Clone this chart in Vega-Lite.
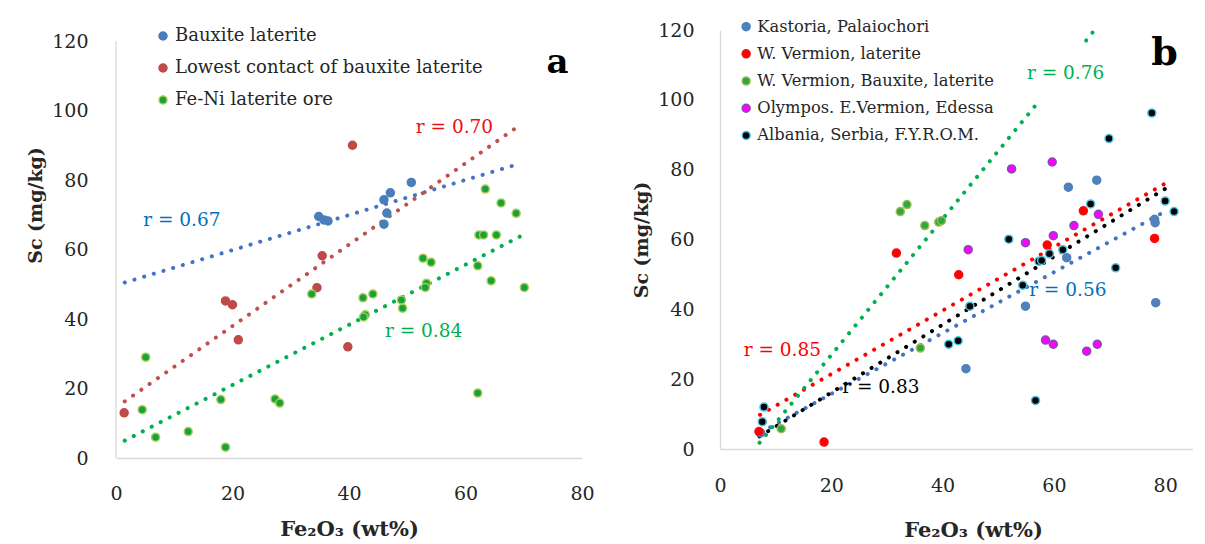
{
  "$schema": "https://vega.github.io/schema/vega-lite/v6.json",
  "background": "white",
  "padding": {"left": 26, "top": 18, "right": 0, "bottom": 0},
  "spacing": 37,
  "datasets": {
    "a_axisline": [{"x": 0, "y": 0, "y2": 120}],
    "a_points": [
      {"series": "Bauxite laterite", "x": 34.8, "y": 69.5},
      {"series": "Bauxite laterite", "x": 35.7, "y": 68.5},
      {"series": "Bauxite laterite", "x": 36.4, "y": 68.2},
      {"series": "Bauxite laterite", "x": 46.0, "y": 74.3},
      {"series": "Bauxite laterite", "x": 46.5, "y": 70.5},
      {"series": "Bauxite laterite", "x": 47.1, "y": 76.3},
      {"series": "Bauxite laterite", "x": 46.0, "y": 67.3},
      {"series": "Bauxite laterite", "x": 50.7, "y": 79.3},
      {"series": "Lowest contact of bauxite laterite", "x": 1.4, "y": 13.0},
      {"series": "Lowest contact of bauxite laterite", "x": 18.8, "y": 45.2},
      {"series": "Lowest contact of bauxite laterite", "x": 20.0, "y": 44.1},
      {"series": "Lowest contact of bauxite laterite", "x": 21.0, "y": 34.0},
      {"series": "Lowest contact of bauxite laterite", "x": 34.5, "y": 49.0},
      {"series": "Lowest contact of bauxite laterite", "x": 35.4, "y": 58.2},
      {"series": "Lowest contact of bauxite laterite", "x": 39.8, "y": 32.0},
      {"series": "Lowest contact of bauxite laterite", "x": 40.6, "y": 90.0},
      {"series": "Fe-Ni laterite ore", "x": 5.1, "y": 29.0},
      {"series": "Fe-Ni laterite ore", "x": 4.5, "y": 13.9},
      {"series": "Fe-Ni laterite ore", "x": 6.8, "y": 6.0},
      {"series": "Fe-Ni laterite ore", "x": 12.4, "y": 7.6},
      {"series": "Fe-Ni laterite ore", "x": 18.8, "y": 3.1},
      {"series": "Fe-Ni laterite ore", "x": 18.0, "y": 16.8},
      {"series": "Fe-Ni laterite ore", "x": 27.3, "y": 17.0},
      {"series": "Fe-Ni laterite ore", "x": 28.1, "y": 15.8},
      {"series": "Fe-Ni laterite ore", "x": 33.6, "y": 47.2},
      {"series": "Fe-Ni laterite ore", "x": 42.4, "y": 46.1},
      {"series": "Fe-Ni laterite ore", "x": 44.1, "y": 47.2},
      {"series": "Fe-Ni laterite ore", "x": 42.8, "y": 41.2},
      {"series": "Fe-Ni laterite ore", "x": 42.5, "y": 40.6},
      {"series": "Fe-Ni laterite ore", "x": 49.0, "y": 45.5},
      {"series": "Fe-Ni laterite ore", "x": 49.2, "y": 43.1},
      {"series": "Fe-Ni laterite ore", "x": 52.7, "y": 57.5},
      {"series": "Fe-Ni laterite ore", "x": 54.1, "y": 56.3},
      {"series": "Fe-Ni laterite ore", "x": 53.3, "y": 50.3},
      {"series": "Fe-Ni laterite ore", "x": 53.1, "y": 49.1},
      {"series": "Fe-Ni laterite ore", "x": 62.1, "y": 55.3},
      {"series": "Fe-Ni laterite ore", "x": 62.3, "y": 64.2},
      {"series": "Fe-Ni laterite ore", "x": 63.1, "y": 64.2},
      {"series": "Fe-Ni laterite ore", "x": 65.3, "y": 64.2},
      {"series": "Fe-Ni laterite ore", "x": 63.4, "y": 77.4},
      {"series": "Fe-Ni laterite ore", "x": 66.1, "y": 73.4},
      {"series": "Fe-Ni laterite ore", "x": 68.7, "y": 70.4},
      {"series": "Fe-Ni laterite ore", "x": 64.4, "y": 51.0},
      {"series": "Fe-Ni laterite ore", "x": 70.1, "y": 49.1},
      {"series": "Fe-Ni laterite ore", "x": 62.1, "y": 18.7}
    ],
    "a_lines": [
      {"series": "Bauxite laterite", "x": 1.5, "y": 50.5},
      {"series": "Bauxite laterite", "x": 69.5, "y": 84.8},
      {"series": "Lowest contact of bauxite laterite", "x": 1.5, "y": 16.3},
      {"series": "Lowest contact of bauxite laterite", "x": 69.7, "y": 96.2},
      {"series": "Fe-Ni laterite ore", "x": 1.5, "y": 5.0},
      {"series": "Fe-Ni laterite ore", "x": 69.3, "y": 63.7}
    ],
    "a_labels": [
      {"series": "Bauxite laterite", "x": 11.3, "y": 68.5, "label": "r = 0.67"},
      {"series": "Lowest contact of bauxite laterite", "x": 58.1, "y": 95.3, "label": "r = 0.70"},
      {"series": "Fe-Ni laterite ore", "x": 52.8, "y": 36.5, "label": "r = 0.84"}
    ],
    "a_letter": [{"x": 75.8, "y": 113.6, "label": "a"}],
    "b_points": [
      {"series": "Kastoria, Palaiochori", "x": 62.6, "y": 75.0},
      {"series": "Kastoria, Palaiochori", "x": 67.7, "y": 77.0},
      {"series": "Kastoria, Palaiochori", "x": 78.1, "y": 65.8},
      {"series": "Kastoria, Palaiochori", "x": 78.2, "y": 64.8},
      {"series": "Kastoria, Palaiochori", "x": 78.3, "y": 41.9},
      {"series": "Kastoria, Palaiochori", "x": 54.9, "y": 40.9},
      {"series": "Kastoria, Palaiochori", "x": 44.2, "y": 23.0},
      {"series": "Kastoria, Palaiochori", "x": 62.3, "y": 54.8},
      {"series": "Kastoria, Palaiochori", "x": 7.3, "y": 4.6},
      {"series": "W. Vermion, laterite", "x": 18.7, "y": 2.0},
      {"series": "W. Vermion, laterite", "x": 31.7, "y": 56.1},
      {"series": "W. Vermion, laterite", "x": 42.9, "y": 49.9},
      {"series": "W. Vermion, laterite", "x": 58.8, "y": 58.4},
      {"series": "W. Vermion, laterite", "x": 65.3, "y": 68.2},
      {"series": "W. Vermion, laterite", "x": 78.1, "y": 60.3},
      {"series": "W. Vermion, laterite", "x": 7.0, "y": 5.0},
      {"series": "W. Vermion, Bauxite, laterite", "x": 32.4, "y": 68.0},
      {"series": "W. Vermion, Bauxite, laterite", "x": 33.6, "y": 70.0},
      {"series": "W. Vermion, Bauxite, laterite", "x": 36.8, "y": 64.0},
      {"series": "W. Vermion, Bauxite, laterite", "x": 39.3, "y": 65.0},
      {"series": "W. Vermion, Bauxite, laterite", "x": 39.8, "y": 65.4},
      {"series": "W. Vermion, Bauxite, laterite", "x": 36.0, "y": 28.9},
      {"series": "W. Vermion, Bauxite, laterite", "x": 11.0, "y": 5.8},
      {"series": "Olympos. E.Vermion, Edessa", "x": 52.4, "y": 80.2},
      {"series": "Olympos. E.Vermion, Edessa", "x": 59.7, "y": 82.2},
      {"series": "Olympos. E.Vermion, Edessa", "x": 44.6, "y": 57.1},
      {"series": "Olympos. E.Vermion, Edessa", "x": 54.9, "y": 59.1},
      {"series": "Olympos. E.Vermion, Edessa", "x": 59.9, "y": 61.1},
      {"series": "Olympos. E.Vermion, Edessa", "x": 63.6, "y": 64.0},
      {"series": "Olympos. E.Vermion, Edessa", "x": 68.0, "y": 67.2},
      {"series": "Olympos. E.Vermion, Edessa", "x": 58.5, "y": 31.2},
      {"series": "Olympos. E.Vermion, Edessa", "x": 59.9, "y": 30.0},
      {"series": "Olympos. E.Vermion, Edessa", "x": 65.9, "y": 28.0},
      {"series": "Olympos. E.Vermion, Edessa", "x": 67.8, "y": 30.0},
      {"series": "Albania, Serbia, F.Y.R.O.M.", "x": 77.6, "y": 96.2},
      {"series": "Albania, Serbia, F.Y.R.O.M.", "x": 69.9, "y": 88.9},
      {"series": "Albania, Serbia, F.Y.R.O.M.", "x": 66.6, "y": 70.2},
      {"series": "Albania, Serbia, F.Y.R.O.M.", "x": 80.0, "y": 71.0},
      {"series": "Albania, Serbia, F.Y.R.O.M.", "x": 81.6, "y": 68.0},
      {"series": "Albania, Serbia, F.Y.R.O.M.", "x": 51.9, "y": 60.1},
      {"series": "Albania, Serbia, F.Y.R.O.M.", "x": 61.6, "y": 57.1},
      {"series": "Albania, Serbia, F.Y.R.O.M.", "x": 57.3, "y": 53.8},
      {"series": "Albania, Serbia, F.Y.R.O.M.", "x": 57.8, "y": 54.0},
      {"series": "Albania, Serbia, F.Y.R.O.M.", "x": 59.2, "y": 55.9},
      {"series": "Albania, Serbia, F.Y.R.O.M.", "x": 54.4, "y": 46.9},
      {"series": "Albania, Serbia, F.Y.R.O.M.", "x": 44.9, "y": 40.9},
      {"series": "Albania, Serbia, F.Y.R.O.M.", "x": 71.1, "y": 51.9},
      {"series": "Albania, Serbia, F.Y.R.O.M.", "x": 41.1, "y": 30.0},
      {"series": "Albania, Serbia, F.Y.R.O.M.", "x": 42.8, "y": 31.0},
      {"series": "Albania, Serbia, F.Y.R.O.M.", "x": 56.7, "y": 13.9},
      {"series": "Albania, Serbia, F.Y.R.O.M.", "x": 7.9, "y": 12.0},
      {"series": "Albania, Serbia, F.Y.R.O.M.", "x": 7.6, "y": 7.8}
    ],
    "b_lines": [
      {"series": "Kastoria, Palaiochori", "seg": 1, "x": 7.4, "y": 4.8},
      {"series": "Kastoria, Palaiochori", "seg": 1, "x": 80.3, "y": 68.3},
      {"series": "W. Vermion, laterite", "seg": 1, "x": 7.2, "y": 9.8},
      {"series": "W. Vermion, laterite", "seg": 1, "x": 80.3, "y": 76.3},
      {"series": "W. Vermion, Bauxite, laterite", "seg": 1, "x": 7.1, "y": 1.8},
      {"series": "W. Vermion, Bauxite, laterite", "seg": 1, "x": 57.0, "y": 99.0},
      {"series": "W. Vermion, Bauxite, laterite", "seg": 2, "x": 65.8, "y": 117.0},
      {"series": "W. Vermion, Bauxite, laterite", "seg": 2, "x": 67.3, "y": 120.0},
      {"series": "Albania, Serbia, F.Y.R.O.M.", "seg": 1, "x": 7.1, "y": 3.6},
      {"series": "Albania, Serbia, F.Y.R.O.M.", "seg": 1, "x": 80.7, "y": 75.2}
    ],
    "b_labels": [
      {"series": "Kastoria, Palaiochori", "x": 62.5, "y": 45.5, "label": "r = 0.56"},
      {"series": "W. Vermion, laterite", "x": 11.2, "y": 28.3, "label": "r = 0.85"},
      {"series": "W. Vermion, Bauxite, laterite", "x": 62.1, "y": 107.7, "label": "r = 0.76"},
      {"series": "Albania, Serbia, F.Y.R.O.M.", "x": 28.9, "y": 17.7, "label": "r = 0.83"}
    ],
    "b_letter": [{"x": 79.9, "y": 113.0, "label": "b"}]
  },
  "hconcat": [
    {
      "width": 466,
      "height": 428,
      "encoding": {
        "x": {"field": "x", "type": "quantitative", "scale": {"domain": [0, 80], "nice": false, "zero": false},
              "axis": {"values": [0, 20, 40, 60, 80], "labelPadding": 26, "title": "Fe₂O₃ (wt%)", "titlePadding": 15, "titleFontSize": 21}},
        "y": {"field": "y", "type": "quantitative", "scale": {"domain": [0, 123.17], "nice": false},
              "axis": {"values": [0, 20, 40, 60, 80, 100, 120], "domain": false, "labelPadding": 28, "title": "Sc (mg/kg)", "titlePadding": 6, "titleY": 175}}
      },
      "layer": [
        {
          "data": {"name": "a_axisline"},
          "mark": {"type": "rule", "color": "#d9d9d9", "strokeWidth": 1.3},
          "encoding": {"y2": {"field": "y2"}}
        },
        {
          "data": {"name": "a_lines"},
          "mark": {"type": "line", "strokeDash": [0.1, 10], "strokeCap": "round", "strokeWidth": 4},
          "encoding": {
            "color": {"field": "series", "type": "nominal",
                      "scale": {"domain": ["Bauxite laterite", "Lowest contact of bauxite laterite", "Fe-Ni laterite ore"], "range": ["#4472c4", "#c0504d", "#00b050"]},
                      "legend": null}
          }
        },
        {
          "data": {"name": "a_points"},
          "mark": {"type": "point", "filled": true, "size": 64, "strokeWidth": 1.5, "opacity": 1},
          "encoding": {
            "color": {"field": "series", "type": "nominal",
                      "scale": {"domain": ["Bauxite laterite", "Lowest contact of bauxite laterite", "Fe-Ni laterite ore"], "range": ["#4a7ebb", "#be4b48", "#14a33c"]},
                      "legend": {"orient": "none", "legendX": 38, "legendY": -3, "title": null, "symbolType": "circle", "symbolSize": 64, "symbolStrokeWidth": 1.5, "labelFontSize": 18, "labelFont": "DejaVu Serif", "labelColor": "#262626", "labelLimit": 500, "rowPadding": 14, "labelOffset": 3, "padding": 0}},
            "stroke": {"field": "series", "type": "nominal",
                      "scale": {"domain": ["Bauxite laterite", "Lowest contact of bauxite laterite", "Fe-Ni laterite ore"], "range": ["#4a7ebb", "#be4b48", "#a8cc50"]},
                      "legend": {"orient": "none", "legendX": 38, "legendY": -3, "title": null, "symbolType": "circle", "symbolSize": 64, "symbolStrokeWidth": 1.5, "labelFontSize": 18, "labelFont": "DejaVu Serif", "labelColor": "#262626", "labelLimit": 500, "rowPadding": 14, "labelOffset": 3, "padding": 0}}
          }
        },
        {
          "data": {"name": "a_labels"},
          "mark": {"type": "text", "fontSize": 18.5, "font": "DejaVu Serif", "align": "center", "baseline": "middle"},
          "encoding": {
            "text": {"field": "label"},
            "color": {"field": "series", "type": "nominal",
                      "scale": {"domain": ["Bauxite laterite", "Lowest contact of bauxite laterite", "Fe-Ni laterite ore"], "range": ["#0070c0", "#e81010", "#00b050"]},
                      "legend": null}
          }
        },
        {
          "data": {"name": "a_letter"},
          "mark": {"type": "text", "fontSize": 34, "fontWeight": "bold", "font": "DejaVu Serif", "color": "#000000", "align": "center", "baseline": "middle"},
          "encoding": {"text": {"field": "label"}}
        }
      ],
      "resolve": {"scale": {"color": "independent", "stroke": "independent"}}
    },
    {
      "width": 473,
      "height": 419,
      "encoding": {
        "x": {"field": "x", "type": "quantitative", "scale": {"domain": [0, 85], "nice": false, "zero": false},
              "axis": {"values": [0, 20, 40, 60, 80], "labelPadding": 27, "title": "Fe₂O₃ (wt%)", "titlePadding": 24, "titleX": 253, "titleFontSize": 21}},
        "y": {"field": "y", "type": "quantitative", "scale": {"domain": [0, 120], "nice": false},
              "axis": {"values": [0, 20, 40, 60, 80, 100, 120], "labelPadding": 26, "title": "Sc (mg/kg)", "titlePadding": 6}}
      },
      "layer": [
        {
          "data": {"name": "b_lines"},
          "mark": {"type": "line", "strokeDash": [0.1, 10], "strokeCap": "round", "strokeWidth": 4},
          "encoding": {
            "detail": {"field": "seg"},
            "color": {"field": "series", "type": "nominal",
                      "scale": {"domain": ["Kastoria, Palaiochori", "W. Vermion, laterite", "W. Vermion, Bauxite, laterite", "Albania, Serbia, F.Y.R.O.M."], "range": ["#4472c4", "#ff0000", "#00b050", "#000000"]},
                      "legend": null}
          }
        },
        {
          "data": {"name": "b_points"},
          "mark": {"type": "point", "filled": true, "size": 64, "strokeWidth": 1.5, "opacity": 1},
          "encoding": {
            "color": {"field": "series", "type": "nominal",
                      "scale": {"domain": ["Kastoria, Palaiochori", "W. Vermion, laterite", "W. Vermion, Bauxite, laterite", "Olympos. E.Vermion, Edessa", "Albania, Serbia, F.Y.R.O.M."], "range": ["#4f81bd", "#ff0000", "#2fa83a", "#ff00ff", "#000000"]},
                      "legend": {"orient": "none", "legendX": 18, "legendY": -11.5, "title": null, "symbolType": "circle", "symbolSize": 64, "symbolStrokeWidth": 1.5, "labelFontSize": 16.3, "labelFont": "DejaVu Serif", "labelColor": "#262626", "labelLimit": 500, "rowPadding": 10.2, "labelOffset": 3, "padding": 0}},
            "stroke": {"field": "series", "type": "nominal",
                      "scale": {"domain": ["Kastoria, Palaiochori", "W. Vermion, laterite", "W. Vermion, Bauxite, laterite", "Olympos. E.Vermion, Edessa", "Albania, Serbia, F.Y.R.O.M."], "range": ["#4f81bd", "#f01010", "#9bbb59", "#7f4fb0", "#4bc3e0"]},
                      "legend": {"orient": "none", "legendX": 18, "legendY": -11.5, "title": null, "symbolType": "circle", "symbolSize": 64, "symbolStrokeWidth": 1.5, "labelFontSize": 16.3, "labelFont": "DejaVu Serif", "labelColor": "#262626", "labelLimit": 500, "rowPadding": 10.2, "labelOffset": 3, "padding": 0}}
          }
        },
        {
          "data": {"name": "b_labels"},
          "mark": {"type": "text", "fontSize": 18.5, "font": "DejaVu Serif", "align": "center", "baseline": "middle"},
          "encoding": {
            "text": {"field": "label"},
            "color": {"field": "series", "type": "nominal",
                      "scale": {"domain": ["Kastoria, Palaiochori", "W. Vermion, laterite", "W. Vermion, Bauxite, laterite", "Albania, Serbia, F.Y.R.O.M."], "range": ["#0070c0", "#ff0000", "#00b050", "#000000"]},
                      "legend": null}
          }
        },
        {
          "data": {"name": "b_letter"},
          "mark": {"type": "text", "fontSize": 38, "fontWeight": "bold", "font": "DejaVu Serif", "color": "#000000", "align": "center", "baseline": "middle"},
          "encoding": {"text": {"field": "label"}}
        }
      ],
      "resolve": {"scale": {"color": "independent", "stroke": "independent"}}
    }
  ],
  "resolve": {"scale": {"color": "independent", "stroke": "independent", "x": "independent", "y": "independent"}},
  "config": {
    "view": {"stroke": null},
    "font": "DejaVu Serif",
    "axis": {
      "grid": false, "ticks": false, "labelFlush": false, "labelOverlap": false,
      "domainColor": "#d9d9d9", "domainWidth": 1.3,
      "labelFont": "DejaVu Serif", "labelFontSize": 19, "labelColor": "#262626",
      "titleFont": "DejaVu Serif", "titleFontSize": 19, "titleFontWeight": "bold", "titleColor": "#262626"
    }
  }
}
